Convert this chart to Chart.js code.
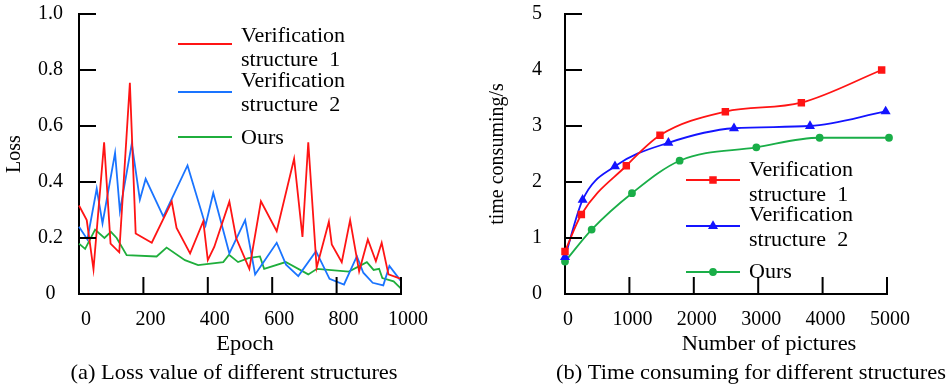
<!DOCTYPE html>
<html>
<head>
<meta charset="utf-8" />
<title>Loss value and time consuming of different structures</title>
<script src="https://cdn.jsdelivr.net/npm/chart.js@4"></script>
<style>
  html, body { margin: 0; background: #fff; }
  #wrap { position: relative; width: 948px; height: 386px; background: #fff; }
  #wrap canvas { position: absolute; top: 0; }
</style>
</head>
<body>
<div id="wrap">
  <canvas id="lossChart" width="474" height="386" style="left:0"></canvas>
  <canvas id="timeChart" width="474" height="386" style="left:474px"></canvas>
</div>
<script>
// ---- (a) loss per epoch ----
const epochS1 = [0, 24, 45, 78, 98, 125, 158, 176, 226, 288, 303, 345, 386, 400, 420, 467, 488, 529, 565, 614, 668, 694, 712, 738, 776, 785, 816, 842, 870, 897, 922, 940, 961, 1000];
const lossS1  = [0.316, 0.264, 0.088, 0.542, 0.180, 0.149, 0.754, 0.216, 0.183, 0.330, 0.236, 0.145, 0.260, 0.121, 0.168, 0.330, 0.200, 0.090, 0.331, 0.224, 0.483, 0.204, 0.542, 0.094, 0.258, 0.177, 0.114, 0.264, 0.081, 0.195, 0.117, 0.183, 0.070, 0.054];

const epochS2 = [0, 26, 55, 73, 112, 127, 164, 189, 207, 262, 337, 393, 417, 467, 516, 547, 614, 643, 681, 736, 778, 823, 863, 883, 912, 945, 964, 1000];
const lossS2  = [0.240, 0.195, 0.376, 0.252, 0.504, 0.296, 0.537, 0.337, 0.411, 0.276, 0.459, 0.245, 0.361, 0.145, 0.264, 0.070, 0.183, 0.105, 0.064, 0.153, 0.054, 0.034, 0.135, 0.076, 0.040, 0.031, 0.100, 0.046];

const epochOurs = [0, 19, 50, 79, 99, 117, 148, 241, 272, 329, 370, 448, 466, 494, 526, 562, 575, 642, 712, 739, 838, 894, 915, 932, 942, 977, 1000];
const lossOurs  = [0.180, 0.161, 0.230, 0.200, 0.222, 0.200, 0.139, 0.134, 0.166, 0.121, 0.103, 0.114, 0.140, 0.114, 0.128, 0.134, 0.090, 0.114, 0.070, 0.090, 0.080, 0.114, 0.086, 0.090, 0.057, 0.045, 0.019];

const epochTickLabels = ['0', '200', '400', '600', '800', '1000'];
const lossTickLabels  = ['0', '0.2', '0.4', '0.6', '0.8', '1.0'];

// ---- (b) time consuming per number of pictures ----
const picsS1 = [0, 254, 952, 1475, 2490, 3670, 4917];
const timeS1 = [0.76, 1.42, 2.29, 2.835, 3.256, 3.416, 4.0];

const picsS2 = [0, 274, 776, 1605, 2624, 3804, 4979];
const timeS2 = [0.66, 1.68, 2.28, 2.70, 2.96, 3.00, 3.26];

const picsOurs = [0, 414, 1040, 1780, 2971, 3954, 5031];
const timeOurs = [0.58, 1.15, 1.80, 2.38, 2.62, 2.79, 2.79];

const picsTickLabels = ['0', '1000', '2000', '3000', '4000', '5000'];
const timeTickLabels = ['0', '1', '2', '3', '4', '5'];

const seriesLines = [['Verification', 'structure  1'], ['Verification', 'structure  2'], ['Ours']];

const SERIF = '"Liberation Serif", "Times New Roman", serif';

function toPoints(xv, yv) {
    return xv.map((x, i) => ({ x: x, y: yv[i] }));
}

// text in the figure is a bit wider than plain Times
function wideText(ctx, text, x, y, align, sx) {
    ctx.save();
    ctx.translate(x, y);
    ctx.scale(sx, 1);
    ctx.textAlign = align;
    ctx.fillText(text, 0, 0);
    ctx.restore();
}

// inward ticks, x title, caption and the two-line legend
const paperPlugin = {
    id: 'paper',
    afterDraw(chart, args, opts) {
        const ctx = chart.ctx;
        const area = chart.chartArea;
        const sx = chart.scales.x, sy = chart.scales.y;
        ctx.save();
        ctx.strokeStyle = '#000';
        ctx.lineWidth = 2;
        ctx.beginPath();
        sx.ticks.forEach(t => {
            const px = sx.getPixelForValue(t.value);
            if (px - area.left < 2) return;
            ctx.moveTo(px, area.bottom);
            ctx.lineTo(px, area.bottom - opts.tickLen);
        });
        sy.ticks.forEach(t => {
            const py = sy.getPixelForValue(t.value);
            if (area.bottom - py < 2) return;
            ctx.moveTo(area.left, py);
            ctx.lineTo(area.left + opts.tickLen, py);
        });
        ctx.stroke();

        ctx.fillStyle = '#000';
        ctx.textBaseline = 'alphabetic';
        ctx.font = '21px ' + SERIF;
        const mid = (area.left + area.right) / 2;
        wideText(ctx, opts.xTitle, mid + opts.xTitleShift, area.bottom + 56, 'center', 1.07);
        wideText(ctx, opts.caption, mid + opts.captionShift, area.bottom + 85, 'center', 1.07);

        const lg = opts.legend;
        chart.data.datasets.forEach((ds, i) => {
            const it = lg.items[i];
            ctx.strokeStyle = ds.borderColor;
            ctx.lineWidth = ds.borderWidth;
            ctx.beginPath();
            ctx.moveTo(lg.x1, it.line);
            ctx.lineTo(lg.x2, it.line);
            ctx.stroke();
            if (ds.pointRadius > 0) {
                ctx.fillStyle = ds.borderColor;
                Chart.helpers.drawPoint(ctx, { pointStyle: ds.pointStyle, radius: ds.pointRadius, rotation: 0, borderWidth: 1 }, (lg.x1 + lg.x2) / 2, it.line);
            }
            ctx.fillStyle = '#000';
            opts.lines[i].forEach((txt, k) => wideText(ctx, txt, lg.textX, it.text[k], 'left', 1.05));
        });
        ctx.restore();
    }
};

function xAxis(max, step, labels, shift) {
    return {
        type: 'linear', min: 0, max: max,
        grid: { display: false, drawTicks: false },
        border: { display: true, color: '#000', width: 2 },
        ticks: {
            stepSize: step, autoSkip: false, maxRotation: 0, color: '#000',
            font: { family: SERIF, size: 20 }, padding: 14, labelOffset: shift,
            callback: (v, i) => labels[i]
        },
        afterFit: s => { s.height = 92; }
    };
}

function yAxis(max, step, labels, width, pad, title, titlePad) {
    return {
        min: 0, max: max,
        grid: { display: false, drawTicks: false },
        border: { display: true, color: '#000', width: 2 },
        ticks: {
            stepSize: step, color: '#000', crossAlign: 'center',
            font: { family: SERIF, size: 20 }, padding: pad,
            callback: (v, i) => labels[i]
        },
        title: { display: true, text: title, color: '#000', font: { family: SERIF, size: 20 }, padding: { top: titlePad, bottom: 0 } },
        // keep the plot top where the figure has it
        afterFit: s => { s.width = width; s.paddingTop = 0; s.paddingBottom = 0; }
    };
}

function lossSet(label, xv, yv, color) {
    return { label: label, data: toPoints(xv, yv), borderColor: color, backgroundColor: color,
             borderWidth: 1.8, pointRadius: 0, tension: 0, clip: false };
}

function timeSet(label, xv, yv, color, style, r) {
    return { label: label, data: toPoints(xv, yv), borderColor: color, backgroundColor: color,
             pointBackgroundColor: color, pointBorderColor: color, pointStyle: style, pointRadius: r,
             borderWidth: 1.8, cubicInterpolationMode: 'monotone', clip: false };
}

new Chart(document.getElementById('lossChart'), {
    type: 'line',
    data: {
        datasets: [
            lossSet('Verification structure 1', epochS1, lossS1, '#ff1414'),
            lossSet('Verification structure 2', epochS2, lossS2, '#1a74ff'),
            lossSet('Ours', epochOurs, lossOurs, '#1fae3c')
        ]
    },
    options: {
        responsive: false, animation: false,
        layout: { padding: { left: 0, right: 73, top: 14, bottom: 0 } },
        scales: {
            x: xAxis(1000, 200, epochTickLabels, 7),
            y: yAxis(1, 0.2, lossTickLabels, 79, 16, 'Loss', 3)
        },
        plugins: {
            legend: { display: false }, tooltip: { enabled: false },
            paper: {
                tickLen: 17, xTitle: 'Epoch', xTitleShift: 5,
                caption: '(a) Loss value of different structures', captionShift: -6,
                lines: seriesLines,
                legend: { x1: 178, x2: 232, textX: 241,
                          items: [{ line: 44, text: [42, 66] }, { line: 92, text: [87, 111] }, { line: 137, text: [144] }] }
            }
        }
    },
    plugins: [paperPlugin]
});

new Chart(document.getElementById('timeChart'), {
    type: 'line',
    data: {
        datasets: [
            timeSet('Verification structure 1', picsS1, timeS1, '#ff1414', 'rect', 4),
            timeSet('Verification structure 2', picsS2, timeS2, '#1414ff', 'triangle', 4),
            timeSet('Ours', picsOurs, timeOurs, '#1aae48', 'circle', 3)
        ]
    },
    options: {
        responsive: false, animation: false,
        layout: { padding: { left: 0, right: 61, top: 14, bottom: 0 } },
        scales: {
            x: xAxis(5000, 1000, picsTickLabels, 3),
            y: yAxis(5, 1, timeTickLabels, 91, 23, 'time consuming/s', 12)
        },
        plugins: {
            legend: { display: false }, tooltip: { enabled: false },
            paper: {
                tickLen: 17, xTitle: 'Number of pictures', xTitleShift: 43,
                caption: '(b) Time consuming for different structures', captionShift: 25,
                lines: seriesLines,
                legend: { x1: 212, x2: 266, textX: 275,
                          items: [{ line: 180, text: [176, 201] }, { line: 226, text: [221, 246] }, { line: 272, text: [278] }] }
            }
        }
    },
    plugins: [paperPlugin]
});
</script>
</body>
</html>
